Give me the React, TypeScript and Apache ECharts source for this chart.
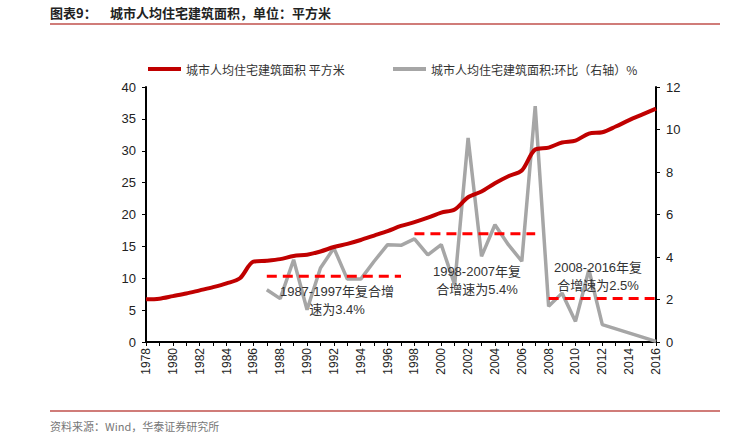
import React, { useEffect, useRef } from "react";
import * as echarts from "echarts";

const years = [
  "1978","1979","1980","1981","1982","1983","1984","1985","1986","1987",
  "1988","1989","1990","1991","1992","1993","1994","1995","1996","1997",
  "1998","1999","2000","2001","2002","2003","2004","2005","2006","2007",
  "2008","2009","2010","2011","2012","2013","2014","2015","2016",
];

const areaPerCapita = [
  6.7, 6.8, 7.2, 7.6, 8.1, 8.6, 9.2, 10.0, 12.6, 12.75,
  13.0, 13.5, 13.7, 14.2, 14.9, 15.4, 16.0, 16.7, 17.4, 18.2,
  18.8, 19.5, 20.3, 20.8, 22.7, 23.6, 24.9, 26.0, 26.9, 30.2,
  30.5, 31.3, 31.6, 32.7, 32.9, 33.8, 34.8, 35.7, 36.6,
];

const growthPct: (number | null)[] = [
  null, null, null, null, null, null, null, null, null, 2.46,
  2.04, 3.87, 1.52, 3.48, 4.42, 2.96, 2.96, 3.8, 4.58, 4.55,
  4.85, 4.1, 4.58, 2.7, 9.6, 4.03, 5.52, 4.58, 3.8, 11.1,
  1.68, 2.3, 0.97, 3.4, 0.82, null, null, null, 0.03,
];

const cagr1: (number | null)[] = years.map((y) => (+y >= 1987 && +y <= 1997 ? 3.1 : null));
const cagr2: (number | null)[] = years.map((y) => (+y >= 1998 && +y <= 2007 ? 5.1 : null));
const cagr3: (number | null)[] = years.map((y) => (+y >= 2008 && +y <= 2016 ? 2.05 : null));

const leftTicks = { min: 0, max: 40, interval: 5 };
const rightTicks = { min: 0, max: 12, interval: 2 };

const seriesNames = ["城市人均住宅建筑面积 平方米", "城市人均住宅建筑面积:环比（右轴）%"];

const FONT = "'Liberation Sans', 'Noto Sans CJK SC', sans-serif";
const CJK = "'Noto Sans CJK SC', sans-serif";

export default function App() {
  const ref = useRef<HTMLDivElement>(null);
  useEffect(() => {
    if (!ref.current) return;
    const chart = echarts.init(ref.current, null, { renderer: "svg" });
    const dashed = (data: (number | null)[]) => ({
      type: "line",
      yAxisIndex: 1,
      data,
      symbol: "none",
      silent: true,
      lineStyle: { color: "#ff0000", width: 3, type: [10, 6] },
    });
    chart.setOption({
      animation: false,
      grid: { left: 146, right: 85, top: 87, bottom: 95 },
      legend: [
        {
          data: [seriesNames[0]],
          left: 143,
          top: 58,
          itemWidth: 33,
          itemHeight: 4,
          icon: "rect",
          textStyle: { fontFamily: CJK, fontSize: 12, color: "#333" },
        },
        {
          data: [seriesNames[1]],
          left: 388,
          top: 58,
          itemWidth: 33,
          itemHeight: 4,
          icon: "rect",
          textStyle: { fontFamily: CJK, fontSize: 12, color: "#333" },
        },
      ],
      xAxis: {
        type: "category",
        data: years,
        boundaryGap: false,
        axisLine: { lineStyle: { color: "#000", width: 2 } },
        axisTick: { interval: 0, length: 4, lineStyle: { color: "#000" } },
        axisLabel: {
          interval: 1,
          rotate: 90,
          fontFamily: FONT,
          fontSize: 12,
          color: "#222",
          margin: 6,
        },
      },
      yAxis: [
        {
          type: "value",
          ...leftTicks,
          splitLine: { show: false },
          axisLine: { show: true, lineStyle: { color: "#000", width: 2 } },
          axisTick: { show: true, length: 4, lineStyle: { color: "#000" } },
          axisLabel: { fontFamily: FONT, fontSize: 13, color: "#222", margin: 10 },
        },
        {
          type: "value",
          ...rightTicks,
          splitLine: { show: false },
          axisLine: { show: true, lineStyle: { color: "#000", width: 2 } },
          axisTick: { show: true, length: 4, lineStyle: { color: "#000" } },
          axisLabel: { fontFamily: FONT, fontSize: 13, color: "#222", margin: 10 },
        },
      ],
      series: [
        {
          name: seriesNames[0],
          type: "line",
          data: areaPerCapita,
          smooth: 0.3,
          symbol: "none",
          itemStyle: { color: "#c00000" },
          lineStyle: { color: "#c00000", width: 4 },
          z: 3,
        },
        {
          name: seriesNames[1],
          type: "line",
          yAxisIndex: 1,
          data: growthPct,
          connectNulls: true,
          symbol: "none",
          itemStyle: { color: "#a6a6a6" },
          lineStyle: { color: "#a6a6a6", width: 3.5 },
          z: 2,
        },
        dashed(cagr1),
        dashed(cagr2),
        dashed(cagr3),
      ],
      graphic: [
        {
          type: "text",
          left: 50,
          top: 6,
          style: { text: "图表9：", font: `bold 13px ${CJK}`, fill: "#222" },
        },
        {
          type: "text",
          left: 110,
          top: 6,
          style: { text: "城市人均住宅建筑面积，单位：平方米", font: `bold 13px ${CJK}`, fill: "#222" },
        },
        {
          type: "line",
          shape: { x1: 50, y1: 24, x2: 720, y2: 24 },
          style: { stroke: "#c0504d", lineWidth: 1.5 },
        },
        {
          type: "line",
          shape: { x1: 50, y1: 411, x2: 720, y2: 411 },
          style: { stroke: "#c0504d", lineWidth: 1.5 },
        },
        {
          type: "text",
          left: 50,
          top: 420,
          style: { text: "资料来源：Wind，华泰证券研究所", font: `11px ${CJK}`, fill: "#777" },
        },
        {
          type: "text",
          x: 337,
          y: 300,
          z: 10,
          style: {
            text: "1987-1997年复合增\n速为3.4%",
            font: `13px ${FONT}`,
            fill: "#333",
            align: "center",
            verticalAlign: "middle",
            lineHeight: 18,
          },
        },
        {
          type: "text",
          x: 477,
          y: 280,
          z: 10,
          style: {
            text: "1998-2007年复\n合增速为5.4%",
            font: `13px ${FONT}`,
            fill: "#333",
            align: "center",
            verticalAlign: "middle",
            lineHeight: 18,
          },
        },
        {
          type: "text",
          x: 598,
          y: 276,
          z: 10,
          style: {
            text: "2008-2016年复\n合增速为2.5%",
            font: `13px ${FONT}`,
            fill: "#333",
            align: "center",
            verticalAlign: "middle",
            lineHeight: 18,
          },
        },
      ],
    });
    return () => chart.dispose();
  }, []);
  return <div ref={ref} style={{ width: 741, height: 437, position: "absolute", left: 0, top: 0 }} />;
}
